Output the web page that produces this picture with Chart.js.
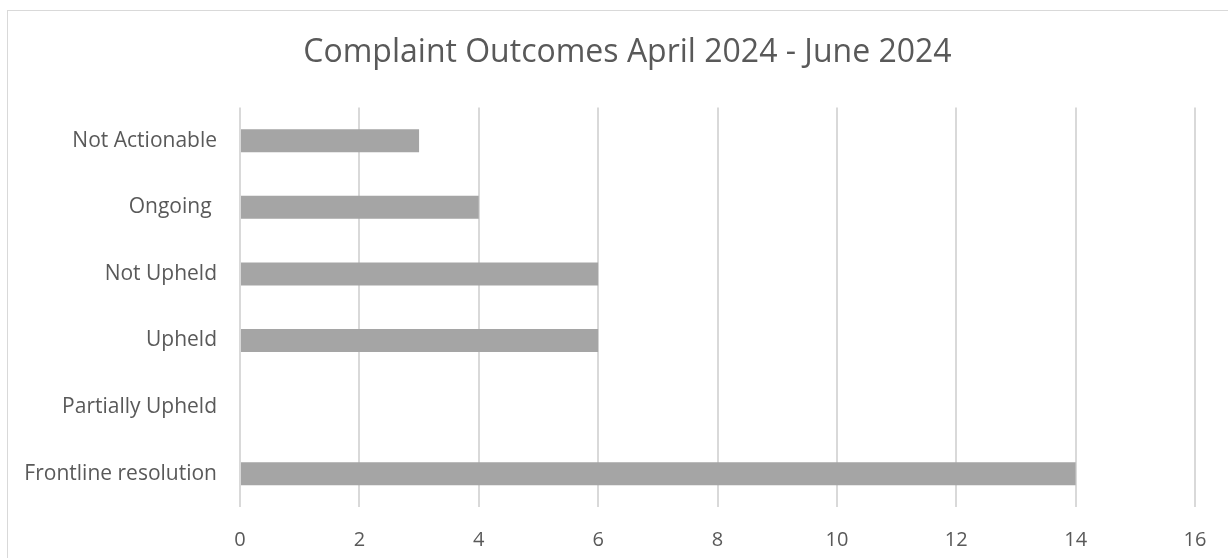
<!DOCTYPE html>
<html>
<head>
<meta charset="utf-8">
<script src="https://cdn.jsdelivr.net/npm/chart.js@4.4.1/dist/chart.umd.min.js"></script>
<style>
  html, body { margin: 0; padding: 0; background: #fff; }
  #wrap { width: 1228px; height: 558px; position: relative; }
</style>
</head>
<body>
<div id="wrap"><canvas id="outcomes_chart" width="1228" height="558"></canvas></div>
<script>
// chart data
let outcome_labels = ['Not Actionable', 'Ongoing ', 'Not Upheld', 'Upheld', 'Partially Upheld', 'Frontline resolution'];
let outcome_counts = [3, 4, 6, 6, 0, 14];
let chart_title = 'Complaint Outcomes April 2024 - June 2024';
let x_min = 0, x_max = 16, x_step = 2;

let text_colour = '#595959';
let grid_colour = '#d9d9d9';
let bar_colour = '#a5a5a5';
let base_font = '"Open Sans", "Noto Sans", sans-serif';

//outer frame like the office chart box
const frame_plugin = {
    id: 'frame',
    afterLayout: (chart) => {
        // title in the original sits a bit right of the canvas centre
        if (chart.titleBlock) {
            chart.titleBlock.left = 60;
            chart.titleBlock.right = 1195;
        }
    },
    beforeDraw: (chart) => {
        let ctx = chart.ctx;
        ctx.save();
        ctx.fillStyle = '#ffffff';
        ctx.fillRect(0, 0, chart.width, chart.height);
        ctx.strokeStyle = grid_colour;
        ctx.lineWidth = 1;
        ctx.strokeRect(7.5, 10.5, 1400, 700);
        ctx.restore();
    }
};

let chart_canvas = document.getElementById('outcomes_chart');

let chart = new Chart(chart_canvas, {
    type: 'bar',
    data: {
        labels: outcome_labels,
        datasets: [{
            label: 'Outcomes',
            data: outcome_counts,
            backgroundColor: bar_colour,
            borderWidth: 0,
            barPercentage: 1,
            categoryPercentage: 0.346
        }]
    },
    options: {
        indexAxis: 'y',
        responsive: false,
        animation: false,
        devicePixelRatio: 1,
        layout: { padding: { left: 0, right: 33, top: 0, bottom: 0 } },
        plugins: {
            legend: { display: false },
            tooltip: { enabled: false },
            title: {
                display: true,
                text: chart_title,
                color: text_colour,
                font: { family: base_font, size: 32, weight: 'normal', lineHeight: 1.2 },
                padding: { top: 34, bottom: 35 }
            }
        },
        scales: {
            x: {
                min: x_min,
                max: x_max,
                ticks: {
                    stepSize: x_step,
                    color: text_colour,
                    font: { family: base_font, size: 20 },
                    padding: 21
                },
                grid: { color: grid_colour, lineWidth: 2, drawTicks: false },
                border: { display: false },
                afterFit: (scale) => { scale.height = 51; }
            },
            y: {
                ticks: {
                    color: text_colour,
                    font: { family: base_font, size: 21 },
                    padding: 23
                },
                grid: { display: false, drawTicks: false },
                border: { display: false },
                afterFit: (scale) => { scale.width = 240; }
            }
        }
    },
    plugins: [frame_plugin]
});
</script>
</body>
</html>
